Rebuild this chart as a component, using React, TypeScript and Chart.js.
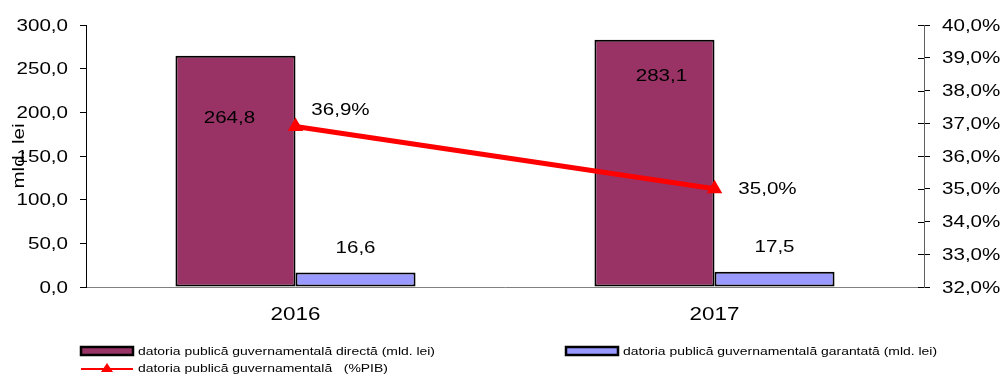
import React, { useEffect, useRef } from "react";
import { Chart, registerables } from "chart.js";

Chart.register(...registerables);

const FONT = "'Liberation Sans', Arial, sans-serif";
// all text in this chart is set slightly wide along its baseline
const STRETCH = 1.21;

// Chart data
const years = ["2016", "2017"];
const directDebt = [264.8, 283.1]; // mld. lei
const guaranteedDebt = [16.6, 17.5]; // mld. lei
const debtPctGdp = [36.9, 35.0]; // % PIB

const axisTitle = "mld. lei";
const legendDirect = "datoria publică guvernamentală directă (mld. lei)";
const legendGuaranteed = "datoria publică guvernamentală garantată (mld. lei)";
const legendPct = "datoria publică guvernamentală   (%PIB)";

const PLUM = "#993366";
const LAVENDER = "#9999FF";
const RED = "#FF0000";

const fmt = (v: number, digits = 1) => v.toFixed(digits).replace(".", ",");

function wideText(
  ctx: CanvasRenderingContext2D,
  text: string,
  x: number,
  y: number,
  size: number,
  align: CanvasTextAlign,
  rotate = false
) {
  ctx.save();
  ctx.translate(x, y);
  if (rotate) ctx.rotate(-Math.PI / 2);
  ctx.scale(STRETCH, 1);
  ctx.font = `${size}px ${FONT}`;
  ctx.fillStyle = "#000";
  ctx.textAlign = align;
  ctx.textBaseline = "middle";
  ctx.fillText(text, 0, 0);
  ctx.restore();
}

// axis tick labels and axis title
const axisText = {
  id: "axisText",
  afterDraw(chart: any) {
    const ctx = chart.ctx;
    const { x, y, y1 } = chart.scales;
    y.ticks.forEach((t: any, i: number) => {
      wideText(ctx, fmt(t.value), y.right - 18, y.getPixelForTick(i) + 1, 17, "right");
    });
    y1.ticks.forEach((t: any, i: number) => {
      wideText(ctx, fmt(t.value) + "%", y1.left + 18, y1.getPixelForTick(i) + 1, 17, "left");
    });
    x.ticks.forEach((t: any, i: number) => {
      wideText(ctx, String(years[i]), x.getPixelForTick(i), x.top + 28, 18.5, "center");
    });
    wideText(ctx, axisTitle, 19, (chart.chartArea.top + chart.chartArea.bottom) / 2, 17, "center", true);
  },
};

// value labels drawn next to bars and line points
const valueLabels = {
  id: "valueLabels",
  afterDatasetsDraw(chart: any) {
    const ctx = chart.ctx;
    const directOffsets = [
      [-6, 63],
      [7, 37],
    ];
    const pctOffsets = [
      [45, -16],
      [53, 1],
    ];
    chart.getDatasetMeta(0).data.forEach((bar: any, i: number) => {
      wideText(ctx, fmt(directDebt[i]), bar.x + directOffsets[i][0], bar.y + directOffsets[i][1], 17, "center");
    });
    chart.getDatasetMeta(1).data.forEach((bar: any, i: number) => {
      wideText(ctx, fmt(guaranteedDebt[i]), bar.x, bar.y - 24, 17, "center");
    });
    chart.getDatasetMeta(2).data.forEach((pt: any, i: number) => {
      wideText(ctx, fmt(debtPctGdp[i]) + "%", pt.x + pctOffsets[i][0], pt.y + pctOffsets[i][1], 17, "center");
    });
  },
};

// inner half of the right-axis tick marks (Chart.js only draws the outer half)
const innerTicks = {
  id: "innerTicks",
  afterDraw(chart: any) {
    const s = chart.scales.y1;
    const ctx = chart.ctx;
    ctx.save();
    ctx.strokeStyle = "#000";
    ctx.lineWidth = 1;
    s.ticks.forEach((t: any, i: number) => {
      const yy = Math.round(s.getPixelForTick(i)) + 0.5;
      ctx.beginPath();
      ctx.moveTo(s.left - 6, yy);
      ctx.lineTo(s.left, yy);
      ctx.stroke();
    });
    ctx.restore();
  },
};

// legend under the plot
const bottomLegend = {
  id: "bottomLegend",
  afterDraw(chart: any) {
    const ctx = chart.ctx;
    ctx.save();

    const box = (x: number, y: number, fill: string) => {
      ctx.fillStyle = fill;
      ctx.fillRect(x, y, 52, 8);
      ctx.strokeStyle = "#000";
      ctx.lineWidth = 2.5;
      ctx.strokeRect(x, y, 52, 8);
    };

    box(81, 347, PLUM);
    wideText(ctx, legendDirect, 138, 352, 11.5, "left");

    box(566, 347, LAVENDER);
    wideText(ctx, legendGuaranteed, 623, 352, 11.5, "left");

    ctx.strokeStyle = RED;
    ctx.lineWidth = 2;
    ctx.beginPath();
    ctx.moveTo(81, 369);
    ctx.lineTo(133, 369);
    ctx.stroke();
    ctx.fillStyle = RED;
    ctx.beginPath();
    ctx.moveTo(107, 363);
    ctx.lineTo(113, 372);
    ctx.lineTo(101, 372);
    ctx.closePath();
    ctx.fill();
    wideText(ctx, legendPct, 138, 369, 11.5, "left");
    ctx.restore();
  },
};

export default function App() {
  const ref = useRef<HTMLCanvasElement | null>(null);

  useEffect(() => {
    if (!ref.current) return;
    const chart = new Chart(ref.current, {
      type: "bar",
      data: {
        labels: years,
        datasets: [
          {
            label: legendDirect,
            data: directDebt,
            backgroundColor: PLUM,
            borderColor: "#000",
            borderWidth: 2,
            borderSkipped: false,
            yAxisID: "y",
            order: 2,
          },
          {
            label: legendGuaranteed,
            data: guaranteedDebt,
            backgroundColor: LAVENDER,
            borderColor: "#000",
            borderWidth: 2,
            borderSkipped: false,
            yAxisID: "y",
            order: 2,
          },
          {
            type: "line",
            label: legendPct,
            data: debtPctGdp,
            borderColor: RED,
            backgroundColor: RED,
            borderWidth: 5,
            pointStyle: "triangle",
            pointRadius: 9,
            pointBorderWidth: 0,
            yAxisID: "y1",
            order: 1,
          } as any,
        ],
      },
      options: {
        responsive: false,
        animation: false,
        layout: { padding: { top: 25, left: 0, right: 0, bottom: 0 } },
        datasets: {
          bar: { categoryPercentage: 0.573, barPercentage: 1 },
        },
        plugins: {
          legend: { display: false },
          tooltip: { enabled: false },
        },
        scales: {
          x: {
            grid: { display: false, drawTicks: false },
            border: { color: "#808080", width: 1 },
            ticks: { display: false },
            afterFit: (s: any) => {
              s.height = 89;
            },
          },
          y: {
            position: "left",
            min: 0,
            max: 300,
            ticks: { stepSize: 50, display: false },
            grid: { drawOnChartArea: false, tickLength: 6, color: "#000" },
            border: { color: "#000", width: 1 },
            afterFit: (s: any) => {
              s.width = 86;
            },
          },
          y1: {
            position: "right",
            min: 32,
            max: 40,
            ticks: { stepSize: 1, display: false },
            grid: { drawOnChartArea: false, tickLength: 6, color: "#000" },
            border: { color: "#606060", width: 1 },
            afterFit: (s: any) => {
              s.width = 80;
            },
          },
        },
      } as any,
      plugins: [valueLabels, innerTicks, axisText, bottomLegend],
    });
    return () => chart.destroy();
  }, []);

  return (
    <div style={{ position: "absolute", left: 0, top: 0, width: 1004, height: 376, background: "#fff" }}>
      <canvas ref={ref} width={1004} height={376} />
    </div>
  );
}
